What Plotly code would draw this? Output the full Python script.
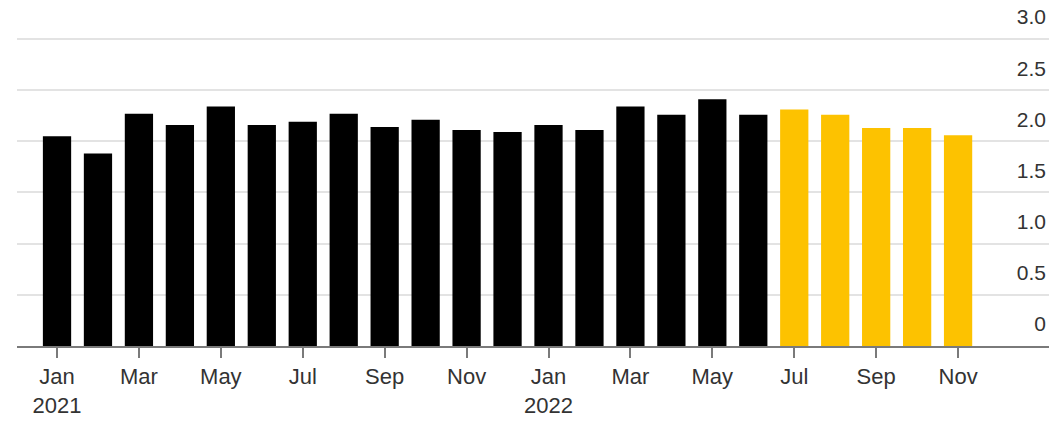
import plotly.graph_objects as go

# Data
months = ["Jan 2021", "Feb 2021", "Mar 2021", "Apr 2021", "May 2021", "Jun 2021",
          "Jul 2021", "Aug 2021", "Sep 2021", "Oct 2021", "Nov 2021", "Dec 2021",
          "Jan 2022", "Feb 2022", "Mar 2022", "Apr 2022", "May 2022", "Jun 2022",
          "Jul 2022", "Aug 2022", "Sep 2022", "Oct 2022", "Nov 2022"]
actual_values = [2.05, 1.88, 2.27, 2.16, 2.34, 2.16, 2.19, 2.27, 2.14, 2.21, 2.11, 2.09,
                 2.16, 2.11, 2.34, 2.26, 2.41, 2.26]
forecast_values = [2.31, 2.26, 2.13, 2.13, 2.06]
tick_positions = [0, 2, 4, 6, 8, 10, 12, 14, 16, 18, 20, 22]
tick_labels = ["Jan<br>2021", "Mar", "May", "Jul", "Sep", "Nov",
               "Jan<br>2022", "Mar", "May", "Jul", "Sep", "Nov"]
y_ticks = [0, 0.5, 1.0, 1.5, 2.0, 2.5, 3.0]
y_tick_labels = ["0", "0.5", "1.0", "1.5", "2.0", "2.5", "3.0"]

n_actual = len(actual_values)
x_actual = list(range(n_actual))
x_forecast = list(range(n_actual, n_actual + len(forecast_values)))

fig = go.Figure()
fig.add_trace(go.Bar(x=x_actual, y=actual_values, marker=dict(color="#000000", line=dict(width=0)),
                     width=0.69, hovertext=months[:n_actual], showlegend=False))
fig.add_trace(go.Bar(x=x_forecast, y=forecast_values, marker=dict(color="#FDC200", line=dict(width=0)),
                     width=0.69, hovertext=months[n_actual:], showlegend=False))

fig.update_layout(
    width=1056, height=424,
    margin=dict(l=17, r=7, t=5, b=78),
    paper_bgcolor="white", plot_bgcolor="white",
    font=dict(family="Liberation Sans, Arial, Helvetica, sans-serif", color="#333333"),
    bargap=0.3,
    xaxis=dict(
        range=[-0.977, 24.22],
        tickmode="array", tickvals=tick_positions, ticktext=tick_labels,
        showgrid=False, zeroline=False,
        showline=True, linecolor="#7a7a7a", linewidth=2,
        ticks="outside", ticklen=10, tickwidth=1.5, tickcolor="#7a7a7a",
        tickfont=dict(size=22, color="#333333"),
        fixedrange=True,
    ),
    yaxis=dict(
        range=[0, 3.332], side="right",
        tickmode="array", tickvals=y_ticks, ticktext=y_tick_labels,
        showgrid=True, gridcolor="#e3e3e3", gridwidth=1.5,
        zeroline=False, showline=False, ticks="",
        ticklabelposition="inside", ticklabelshift=-22, ticklabelstandoff=0,
        tickfont=dict(size=21, color="#333333"),
        fixedrange=True,
    ),
)

fig.write_html("out.html")
